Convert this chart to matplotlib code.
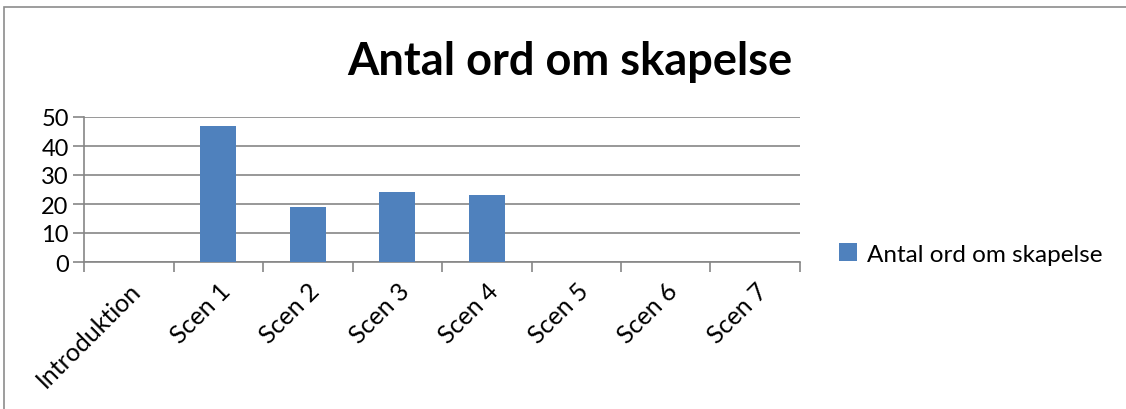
import numpy as np
import matplotlib.pyplot as plt
from matplotlib.patches import Rectangle

categories = ["Introduktion", "Scen 1", "Scen 2", "Scen 3", "Scen 4", "Scen 5", "Scen 6", "Scen 7"]
values = [0, 47, 19, 24, 23, 0, 0, 0]
series_name = "Antal ord om skapelse"
yticks = [0, 10, 20, 30, 40, 50]

plt.rcParams['font.family'] = ['Lato', 'DejaVu Sans']
grid_col = "#868686"

fig = plt.figure(figsize=(11.26, 4.10), dpi=100)
ax = fig.add_axes([84/1126, 1-263/410, (800-84)/1126, 145/410])

x = np.arange(len(categories))
ax.bar(x, values, width=0.4, color="#4F81BD", label=series_name, zorder=3)

ax.set_xlim(-0.5, len(categories) - 0.5)
ax.set_ylim(0, 50)
ax.set_yticks(yticks)
ax.tick_params(axis='y', length=8, width=1.2, color=grid_col, labelsize=17, pad=3)
ax.yaxis.grid(True, color=grid_col, linewidth=1.2, zorder=0)

ax.set_xticks(x)
ax.set_xticklabels(categories, rotation=45, ha='right', va='top', rotation_mode='anchor', fontsize=18)
ax.tick_params(axis='x', which='major', length=0, pad=12)
ax.set_xticks(np.arange(-0.5, len(categories)), minor=True)
ax.tick_params(axis='x', which='minor', length=7, width=1.2, color=grid_col)

for s in ['top', 'right']:
    ax.spines[s].set_visible(False)
for s in ['left', 'bottom']:
    ax.spines[s].set_color(grid_col)
    ax.spines[s].set_linewidth(1.2)

fig.text(570/1126, 1-62/410, series_name, ha='center', va='center', fontsize=32.5, fontweight='bold')

ax.legend(loc='center left', bbox_to_anchor=(839/1126, 1-255/410), bbox_transform=fig.transFigure,
          frameon=False, fontsize=17.5, handlelength=0.75, handleheight=0.75, handletextpad=0.4,
          borderaxespad=0, borderpad=0)

fig.patches.append(Rectangle((3.5/1126, -0.1), 1.5, 1 - 8/410 + 0.1, transform=fig.transFigure,
                             fill=False, edgecolor="#8c8c8c", linewidth=1.2))

fig.savefig("out.png", dpi=100)
